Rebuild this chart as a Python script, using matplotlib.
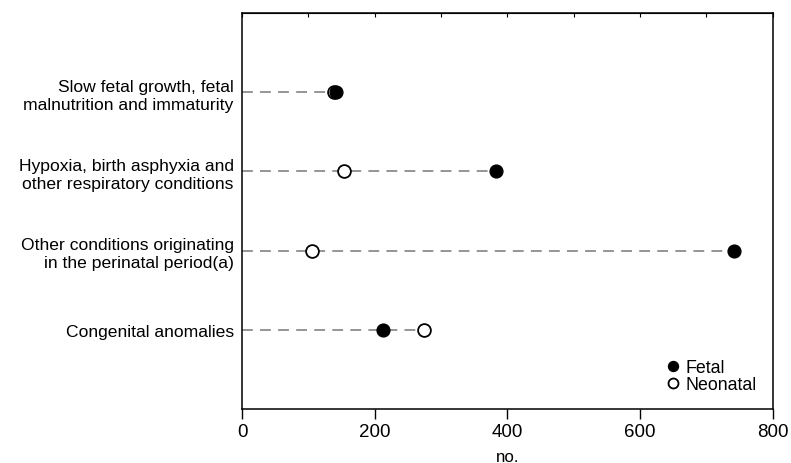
import numpy as np
import matplotlib.pyplot as plt

plt.rcParams['font.family'] = ['Liberation Sans', 'DejaVu Sans']

# ==================== Data ====================
categories = ["Slow fetal growth, fetal\nmalnutrition and immaturity",
              "Hypoxia, birth asphyxia and\nother respiratory conditions",
              "Other conditions originating\nin the perinatal period(a)",
              "Congenital anomalies"]
fetal = [142, 383, 741, 212]
neonatal = [138, 154, 106, 275]

# ==================== Plot ====================
fig = plt.figure(figsize=(7.91, 4.64), dpi=100)
ax = fig.add_axes([0.306, 0.116, 0.671, 0.854])

ypos = np.arange(len(categories))[::-1] + 1

for y, f, n in zip(ypos, fetal, neonatal):
    ax.plot([0, max(f, n)], [y, y], color='#8c8c8c', linewidth=1.3,
            dashes=(6, 4), zorder=1)

ax.plot(neonatal, ypos, 'o', markersize=9.2, markerfacecolor='white',
        markeredgecolor='black', markeredgewidth=1.3, linestyle='none',
        label='Neonatal', zorder=2)
ax.plot(fetal, ypos, 'o', markersize=9.2, markerfacecolor='black',
        markeredgecolor='black', linestyle='none', label='Fetal', zorder=3)

ax.set_xlim(0, 800)
ax.set_ylim(0, 5)
ax.set_xticks([0, 200, 400, 600, 800])
ax.set_yticks(ypos)
ax.set_yticklabels(categories, fontsize=12.6, linespacing=1.25)
ax.tick_params(axis='y', length=0, pad=6)
ax.tick_params(axis='x', labelsize=13.5, length=7, width=1, direction='out', pad=3)
ax.secondary_xaxis('top').tick_params(length=3, direction='in', labeltop=False)
ax.set_xlabel("no.", fontsize=12.2, labelpad=6.5)

for s in ax.spines.values():
    s.set_linewidth(1.1)

h, l = ax.get_legend_handles_labels()
ax.legend(h[::-1], l[::-1], loc='lower right', frameon=False, fontsize=12.8,
          handlelength=0.5, handletextpad=0.45, borderaxespad=0.5,
          labelspacing=0.0, markerscale=0.78)

plt.savefig("out.png", dpi=100)
